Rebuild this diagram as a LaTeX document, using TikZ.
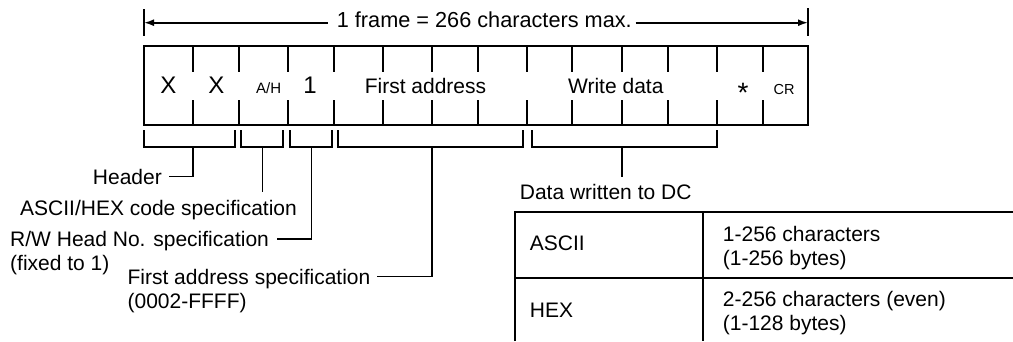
\documentclass[tikz,border=0pt]{standalone}
\usepackage{fontspec}
\setmainfont{Liberation Sans}
\usetikzlibrary{arrows.meta}

\begin{document}
\begin{tikzpicture}[x=1pt,y=-1pt,line width=1.8pt,
  lbl/.style={inner sep=0pt,text height=15pt,text depth=0pt,font=\fontsize{21}{24}\selectfont},
  cell/.style={inner sep=0pt,anchor=base,font=\fontsize{21}{24}\selectfont},
  tip/.style={-{Latex[length=10pt,width=7pt]}}]
  \useasboundingbox (0,0) rectangle (1013,341);
  % frame length
  \draw (144,9) -- (144,36);
  \draw (808,8) -- (808,36);
  \coordinate (fl) at (144,22.7);
  \coordinate (fr) at (808,22.7);
  \node[lbl,anchor=base,font=\fontsize{21.7}{24}\selectfont] (frame) at (484.3,27.3) {1 frame = 266 characters max.};
  \draw[tip,shorten <=8pt] (fl -| frame.west) -- (fl);
  \draw[tip,shorten <=3pt] (fr -| frame.east) -- (fr);
  % command frame
  \draw (144,46) rectangle (808,125);
  \foreach \x in {193,239,288,334,383,432,478,526.7,572,622,668,717,763} {
    \draw (\x,46) -- (\x,72);
    \draw (\x,100) -- (\x,125);
  }
  \node[cell,font=\fontsize{24}{28}\selectfont] (x1) at (168.5,93.3) {X};
  \node[cell,font=\fontsize{24}{28}\selectfont] (x2) at (216.5,93.3) {X};
  \node[cell,font=\fontsize{15}{18}\selectfont] (ah) at (268.7,93.3) {A/H};
  \node[cell,font=\fontsize{24}{28}\selectfont] (one) at (310,93.3) {1};
  \node[cell] (fa) at (425.5,93.3) {First address};
  \node[cell] (wd) at (615.8,93.3) {Write data};
  \node[cell,font=\fontsize{28}{30}\selectfont] (ast) at (743,102) {*};
  \node[cell,font=\fontsize{14.5}{17}\selectfont] (cr) at (784,94.5) {CR};
  % brackets
  \draw (144,130) |- (235,147) -- (235,130);
  \draw (241,130) |- (283.3,147) -- (283.3,130);
  \draw (290,130) |- (332.3,147) -- (332.3,130);
  \draw (338.3,130) |- (523.3,147) -- (523.3,130);
  \draw (531.7,130) |- (716.7,147) -- (716.7,130);
  \coordinate (hdr) at (193,147);
  \coordinate (ahc) at (262.5,147);
  \coordinate (rwc) at (311.5,147);
  \coordinate (fac) at (431.7,147);
  \coordinate (wdc) at (622.3,147);
  % labels
  \node[lbl,anchor=base east] (header) at (162.7,184) {Header};
  \node[lbl,anchor=base west] (ascii) at (19.3,215.7) {ASCII/HEX code specification};
  \node[lbl,anchor=base west] (rw) at (9.3,246.7) {R/W Head No. specification};
  \node[lbl,anchor=base west] (rwfix) at (9.3,270) {(fixed to 1)};
  \node[lbl,anchor=base west] (fas) at (126.7,284) {First address specification};
  \node[lbl,anchor=base west] (farange) at (126.7,308) {(0002-FFFF)};
  \node[lbl,anchor=base west] (dwdc) at (519,199.3) {Data written to DC};
  \draw (hdr) |- ([xshift=6pt]header.east);
  \draw[shorten >=7.5pt] (ahc) -- (ahc |- ascii.north);
  \draw (rwc) |- ([xshift=7pt]rw.east);
  \draw (fac) |- ([xshift=6pt]fas.east);
  \draw[shorten >=6pt] (wdc) -- (wdc |- dwdc.north);
  % data table
  \draw (515,341) |- (1013,211.7);
  \draw (515,278) -- (1013,278);
  \draw (703,211.7) -- (703,341);
  \node[lbl,anchor=base west] (asc) at (529,250) {ASCII};
  \node[lbl,anchor=base west] (hex) at (529,317.3) {HEX};
  \node[lbl,anchor=base west] (ascn) at (722,241.7) {1-256 characters};
  \node[lbl,anchor=base west] (ascb) at (722,265.5) {(1-256 bytes)};
  \node[lbl,anchor=base west] (hexn) at (722,306.7) {2-256 characters (even)};
  \node[lbl,anchor=base west] (hexb) at (722,330) {(1-128 bytes)};
\end{tikzpicture}
\end{document}
